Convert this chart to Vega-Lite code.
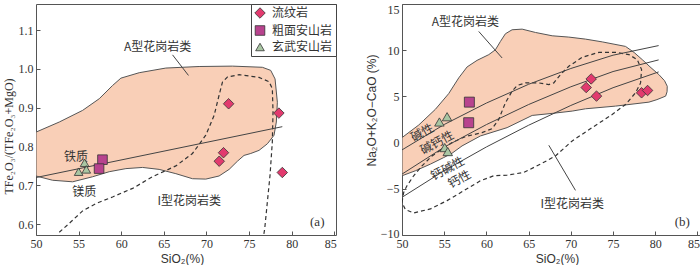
{
 "$schema": "https://vega.github.io/schema/vega-lite/v6.json",
 "padding": {"left": 1, "top": 2, "right": 0, "bottom": 0},
 "spacing": 27,
 "config": {
  "view": {"stroke": "#555", "strokeWidth": 1},
  "axis": {"domain": false, "grid": false, "tickSize": -4, "tickColor": "#555", "labelPadding": 7, "labelFont": "Liberation Serif, Times New Roman, serif", "labelFontSize": 12, "labelColor": "#333", "titleFont": "Liberation Sans", "titleFontSize": 12, "titleFontWeight": "normal", "titleColor": "#333"},
  "text": {"font": "Noto Sans CJK SC", "fontSize": 12, "fill": "#333"}
 },
 "resolve": {"scale": {"color": "independent", "shape": "independent", "size": "independent"}},
 "datasets": {
  "fieldA_a": [
   {"i":0,"x":50,"y":0.837},{"i":1,"x":52.73,"y":0.863},{"i":2,"x":55.47,"y":0.893},{"i":3,"x":57.42,"y":0.923},{"i":4,"x":58.98,"y":0.957},{"i":5,"x":59.96,"y":0.976},{"i":6,"x":62.11,"y":0.99},{"i":7,"x":65.23,"y":1.002},{"i":8,"x":69.14,"y":1.006},{"i":9,"x":73.05,"y":1.007},{"i":10,"x":76.56,"y":1.004},{"i":11,"x":77.54,"y":0.996},{"i":12,"x":78.05,"y":0.974},{"i":13,"x":78.32,"y":0.914},{"i":14,"x":78.2,"y":0.863},{"i":15,"x":77.93,"y":0.829},{"i":16,"x":77.15,"y":0.807},{"i":17,"x":76.17,"y":0.79},{"i":18,"x":75.2,"y":0.782},{"i":19,"x":74.41,"y":0.777},{"i":20,"x":73.63,"y":0.762},{"i":21,"x":72.66,"y":0.741},{"i":22,"x":71.48,"y":0.724},{"i":23,"x":69.92,"y":0.716},{"i":24,"x":68.36,"y":0.717},{"i":25,"x":66.41,"y":0.73},{"i":26,"x":64.45,"y":0.741},{"i":27,"x":62.5,"y":0.746},{"i":28,"x":60.55,"y":0.743},{"i":29,"x":58.59,"y":0.735},{"i":30,"x":56.64,"y":0.722},{"i":31,"x":54.3,"y":0.709},{"i":32,"x":51.95,"y":0.713},{"i":33,"x":50,"y":0.724},{"i":34,"x":50,"y":0.837}
  ],
  "fieldI_a": [
   {"i":0,"x":52.73,"y":0.579},{"i":1,"x":54.1,"y":0.606},{"i":2,"x":55.47,"y":0.634},{"i":3,"x":57.03,"y":0.653},{"i":4,"x":58.98,"y":0.67},{"i":5,"x":61.33,"y":0.692},{"i":6,"x":63.67,"y":0.722},{"i":7,"x":66.41,"y":0.75},{"i":8,"x":68.36,"y":0.782},{"i":9,"x":69.92,"y":0.829},{"i":10,"x":70.9,"y":0.88},{"i":11,"x":71.48,"y":0.932},{"i":12,"x":71.88,"y":0.966},{"i":13,"x":72.46,"y":0.979},{"i":14,"x":73.83,"y":0.985},{"i":15,"x":76.17,"y":0.978},{"i":16,"x":77.34,"y":0.967},{"i":17,"x":77.73,"y":0.949},{"i":18,"x":77.81,"y":0.889},{"i":19,"x":77.73,"y":0.812},{"i":20,"x":77.46,"y":0.726},{"i":21,"x":77.15,"y":0.658},{"i":22,"x":76.84,"y":0.589},{"i":23,"x":76.72,"y":0.572}
  ],
  "lines_a": [
   {"g":"L","x":50,"y":0.72},{"g":"L","x":78.9,"y":0.851},
   {"g":"lead","x":66.02,"y":1.036},{"g":"lead","x":67.89,"y":0.983}
  ],
  "labels_a": [
   {"t":"A型花岗岩类","x":64.26,"y":1.056},{"t":"铁质","x":54.69,"y":0.773},{"t":"镁质","x":55.66,"y":0.683},{"t":"I型花岗岩类","x":67.97,"y":0.66}
  ],
  "pts_a": [
   {"rock":"流纹岩","x":72.6,"y":0.91},{"rock":"流纹岩","x":78.5,"y":0.886},{"rock":"流纹岩","x":72.0,"y":0.784},{"rock":"流纹岩","x":71.5,"y":0.762},{"rock":"流纹岩","x":78.9,"y":0.733},
   {"rock":"粗面安山岩","x":57.8,"y":0.766},{"rock":"粗面安山岩","x":57.4,"y":0.743},
   {"rock":"玄武安山岩","x":55.0,"y":0.735},{"rock":"玄武安山岩","x":55.7,"y":0.758},{"rock":"玄武安山岩","x":55.9,"y":0.741}
  ],
  "fieldA_b": [
   {"i":0,"x":50,"y":0.54},{"i":1,"x":51.98,"y":1.9},{"i":2,"x":53.95,"y":3.6},{"i":3,"x":55.53,"y":5.3},{"i":4,"x":56.72,"y":7.0},{"i":5,"x":57.71,"y":8.19},{"i":6,"x":58.89,"y":8.9},{"i":7,"x":60.28,"y":9.52},{"i":8,"x":61.07,"y":10.05},{"i":9,"x":61.66,"y":10.95},{"i":10,"x":62.25,"y":11.78},{"i":11,"x":63.04,"y":12.21},{"i":12,"x":64.23,"y":12.28},{"i":13,"x":65.81,"y":11.92},{"i":14,"x":67.79,"y":11.56},{"i":15,"x":69.76,"y":11.42},{"i":16,"x":71.74,"y":11.2},{"i":17,"x":73.72,"y":10.9},{"i":18,"x":76.48,"y":10.41},{"i":19,"x":77.5,"y":9.75},{"i":20,"x":78.46,"y":8.98},{"i":21,"x":79.5,"y":8.1},{"i":22,"x":80.43,"y":7.36},{"i":23,"x":81.1,"y":6.7},{"i":24,"x":81.42,"y":6.1},{"i":25,"x":81.4,"y":5.5},{"i":26,"x":81.23,"y":5.03},{"i":27,"x":80.2,"y":4.65},{"i":28,"x":79.25,"y":4.38},{"i":29,"x":75.3,"y":3.95},{"i":30,"x":71.74,"y":3.66},{"i":31,"x":70.16,"y":3.41},{"i":32,"x":67.79,"y":3.16},{"i":33,"x":65.42,"y":2.94},{"i":34,"x":62.45,"y":1.62},{"i":35,"x":59.29,"y":0.72},{"i":36,"x":57.11,"y":-0.36},{"i":37,"x":55.93,"y":-1.15},{"i":38,"x":54.94,"y":-1.62},{"i":39,"x":53.36,"y":-2.33},{"i":40,"x":51.58,"y":-3.05},{"i":41,"x":50,"y":-3.59},{"i":42,"x":50,"y":0.54}
  ],
  "fieldI_b": [
   {"i":0,"x":50,"y":-6.46},{"i":1,"x":50.2,"y":-5.39},{"i":2,"x":50.59,"y":-4.67},{"i":3,"x":51.38,"y":-3.59},{"i":4,"x":52.37,"y":-2.51},{"i":5,"x":53.56,"y":-1.44},{"i":6,"x":54.74,"y":-0.72},{"i":7,"x":55.93,"y":0.0},{"i":8,"x":57.51,"y":0.65},{"i":9,"x":59.49,"y":1.08},{"i":10,"x":60.67,"y":1.51},{"i":11,"x":61.46,"y":2.51},{"i":12,"x":62.25,"y":4.31},{"i":13,"x":63.04,"y":5.57},{"i":14,"x":63.64,"y":6.18},{"i":15,"x":64.62,"y":6.46},{"i":16,"x":66.21,"y":6.46},{"i":17,"x":67.39,"y":6.28},{"i":18,"x":67.98,"y":6.46},{"i":19,"x":68.77,"y":7.36},{"i":20,"x":69.76,"y":8.26},{"i":21,"x":71.34,"y":9.23},{"i":22,"x":73.32,"y":9.77},{"i":23,"x":75.3,"y":9.77},{"i":24,"x":76.88,"y":9.52},{"i":25,"x":77.87,"y":8.98},{"i":26,"x":78.38,"y":7.9},{"i":27,"x":78.26,"y":6.46},{"i":28,"x":77.67,"y":5.39},{"i":29,"x":76.48,"y":4.13},{"i":30,"x":74.9,"y":3.05},{"i":31,"x":72.53,"y":1.62},{"i":32,"x":70.16,"y":0.18},{"i":33,"x":68.18,"y":-1.44},{"i":34,"x":66.4,"y":-2.33},{"i":35,"x":64.43,"y":-3.23},{"i":36,"x":62.45,"y":-3.52},{"i":37,"x":60.87,"y":-3.59},{"i":38,"x":59.29,"y":-4.13},{"i":39,"x":57.31,"y":-5.21},{"i":40,"x":55.34,"y":-6.28},{"i":41,"x":53.36,"y":-7.18},{"i":42,"x":51.38,"y":-7.61},{"i":43,"x":50.4,"y":-7.25},{"i":44,"x":50,"y":-6.46}
  ],
  "lines_b": [
   {"g":"L1","x":50,"y":-0.79},{"g":"L1","x":55,"y":1.96},{"g":"L1","x":60,"y":4.28},{"g":"L1","x":65,"y":6.31},{"g":"L1","x":70,"y":8.02},{"g":"L1","x":75,"y":9.46},{"g":"L1","x":80.4,"y":10.5},
   {"g":"L2","x":50,"y":-3.41},{"g":"L2","x":55,"y":-0.49},{"g":"L2","x":60,"y":1.95},{"g":"L2","x":65,"y":4.12},{"g":"L2","x":70,"y":6.04},{"g":"L2","x":75,"y":7.69},{"g":"L2","x":80.4,"y":8.95},
   {"g":"L3","x":50,"y":-5.92},{"g":"L3","x":55,"y":-3.04},{"g":"L3","x":60,"y":-0.47},{"g":"L3","x":65,"y":1.88},{"g":"L3","x":70,"y":4.02},{"g":"L3","x":75,"y":5.94},{"g":"L3","x":80.4,"y":7.65},
   {"g":"leadA","x":59.09,"y":12.03},{"g":"leadA","x":61.86,"y":9.16},
   {"g":"leadI","x":67.39,"y":-0.29},{"g":"leadI","x":70.55,"y":-5.17}
  ],
  "labels_b": [
   {"t":"A型花岗岩类","x":57.5,"y":13.1},{"t":"I型花岗岩类","x":70.16,"y":-6.64}
  ],
  "labels_b_rot": [
   {"t":"碱性","x":52.4,"y":1.08},{"t":"碱钙性","x":54.15,"y":0.0},{"t":"钙碱性","x":55.4,"y":-2.8},{"t":"钙性","x":56.8,"y":-3.95}
  ],
  "pts_b": [
   {"rock":"流纹岩","x":72.41,"y":6.89},{"rock":"流纹岩","x":71.82,"y":5.96},{"rock":"流纹岩","x":73.04,"y":5.03},{"rock":"流纹岩","x":78.38,"y":5.39},{"rock":"流纹岩","x":79.09,"y":5.64},
   {"rock":"粗面安山岩","x":57.98,"y":4.38},{"rock":"粗面安山岩","x":57.9,"y":2.15},
   {"rock":"玄武安山岩","x":54.43,"y":2.23},{"rock":"玄武安山岩","x":55.34,"y":2.8},{"rock":"玄武安山岩","x":55.06,"y":-0.54},{"rock":"玄武安山岩","x":55.42,"y":-0.97}
  ]
 },
 "hconcat": [
  {
   "width": 300, "height": 231,
   "encoding": {
    "x": {"field": "x", "type": "quantitative", "scale": {"domain": [50, 85.2], "nice": false, "zero": false}, "axis": {"values": [50,55,60,65,70,75,80,85], "title": "SiO₂(%)", "titlePadding": 4, "titleX": 146, "labelAlign": {"condition": {"test": "datum.value == 85", "value": "right"}, "value": "center"}, "labelOffset": {"condition": {"test": "datum.value == 85", "value": 2}, "value": 0}}},
    "y": {"field": "y", "type": "quantitative", "scale": {"domain": [0.572, 1.167], "nice": false, "zero": false}, "axis": {"values": [0.6,0.7,0.8,0.9,1.0,1.1], "format": ".1f", "title": "TFe₂O₃/(TFe₂O₃+MgO)", "titleFont": "Liberation Serif, Times New Roman, serif", "titlePadding": 3, "titleY": 132}}
   },
   "layer": [
    {"data": {"name": "fieldA_a"}, "mark": {"type": "line", "fill": "#f9cfb7", "stroke": "#555", "strokeWidth": 1, "clip": true}, "encoding": {"order": {"field": "i", "type": "quantitative"}}},
    {"data": {"name": "fieldI_a"}, "mark": {"type": "line", "stroke": "#333", "strokeWidth": 1.2, "strokeDash": [4, 3], "clip": true}, "encoding": {"order": {"field": "i", "type": "quantitative"}}},
    {"data": {"name": "lines_a"}, "mark": {"type": "line", "stroke": "#444", "strokeWidth": 1, "clip": true}, "encoding": {"detail": {"field": "g", "type": "nominal"}}},
    {"data": {"name": "labels_a"}, "mark": {"type": "text"}, "encoding": {"text": {"field": "t", "type": "nominal"}}},
    {"data": {"values": [{"t": "(a)", "x": 83.0, "y": 0.606}]}, "mark": {"type": "text", "font": "Liberation Serif, Times New Roman, serif", "fontSize": 13}, "encoding": {"text": {"field": "t", "type": "nominal"}}},
    {"data": {"name": "pts_a"}, "mark": {"type": "point", "filled": true, "stroke": "#333", "strokeWidth": 0.8, "opacity": 1},
     "encoding": {
      "shape": {"field": "rock", "type": "nominal", "scale": {"domain": ["流纹岩","粗面安山岩","玄武安山岩"], "range": ["diamond","square","triangle-up"]}, "legend": {"title": null, "orient": "top-right", "offset": 0, "padding": 3, "strokeColor": "#444", "fillColor": "white", "labelFont": "Noto Sans CJK SC", "labelFontSize": 12, "labelColor": "#333", "symbolSize": 90, "rowPadding": 3.5, "labelOffset": 6, "symbolStrokeColor": "#333", "symbolStrokeWidth": 0.8}},
      "color": {"field": "rock", "type": "nominal", "scale": {"domain": ["流纹岩","粗面安山岩","玄武安山岩"], "range": ["#e23a6e","#b8438e","#a9c6a3"]}, "legend": {"title": null, "orient": "top-right", "offset": 0, "padding": 3, "strokeColor": "#444", "fillColor": "white", "labelFont": "Noto Sans CJK SC", "labelFontSize": 12, "labelColor": "#333", "symbolSize": 90, "rowPadding": 3.5, "labelOffset": 6, "symbolStrokeColor": "#333", "symbolStrokeWidth": 0.8}},
      "size": {"field": "rock", "type": "nominal", "scale": {"domain": ["流纹岩","粗面安山岩","玄武安山岩"], "range": [110, 75, 95]}, "legend": null}
     }}
   ]
  },
  {
   "width": 298, "height": 231,
   "encoding": {
    "x": {"field": "x", "type": "quantitative", "scale": {"domain": [50, 85.3], "nice": false, "zero": false}, "axis": {"values": [50,55,60,65,70,75,80,85], "title": "SiO₂(%)", "titlePadding": 4, "titleX": 155, "labelAlign": {"condition": {"test": "datum.value == 85", "value": "right"}, "value": "center"}, "labelOffset": {"condition": {"test": "datum.value == 85", "value": 2}, "value": 0}}},
    "y": {"field": "y", "type": "quantitative", "scale": {"domain": [-10, 15], "nice": false, "zero": false}, "axis": {"values": [-10,-5,0,5,10,15], "title": "Na₂O+K₂O−CaO (%)", "titlePadding": 2, "titleY": 106, "labelBaseline": {"condition": {"test": "datum.value == 15", "value": "top"}, "value": "middle"}, "labelOffset": {"condition": {"test": "datum.value == -10", "value": -2}, "value": 0}}}
   },
   "layer": [
    {"data": {"name": "fieldA_b"}, "mark": {"type": "line", "fill": "#f9cfb7", "stroke": "#555", "strokeWidth": 1, "clip": true}, "encoding": {"order": {"field": "i", "type": "quantitative"}}},
    {"data": {"name": "fieldI_b"}, "mark": {"type": "line", "stroke": "#333", "strokeWidth": 1.2, "strokeDash": [4, 3], "clip": true}, "encoding": {"order": {"field": "i", "type": "quantitative"}}},
    {"data": {"name": "lines_b"}, "mark": {"type": "line", "stroke": "#444", "strokeWidth": 1, "clip": true}, "encoding": {"detail": {"field": "g", "type": "nominal"}}},
    {"data": {"name": "labels_b"}, "mark": {"type": "text"}, "encoding": {"text": {"field": "t", "type": "nominal"}}},
    {"data": {"name": "labels_b_rot"}, "mark": {"type": "text", "angle": 332}, "encoding": {"text": {"field": "t", "type": "nominal"}}},
    {"data": {"values": [{"t": "(b)", "x": 83.2, "y": -8.6}]}, "mark": {"type": "text", "font": "Liberation Serif, Times New Roman, serif", "fontSize": 13}, "encoding": {"text": {"field": "t", "type": "nominal"}}},
    {"data": {"name": "pts_b"}, "mark": {"type": "point", "filled": true, "stroke": "#333", "strokeWidth": 0.8, "opacity": 1},
     "encoding": {
      "shape": {"field": "rock", "type": "nominal", "scale": {"domain": ["流纹岩","粗面安山岩","玄武安山岩"], "range": ["diamond","square","triangle-up"]}, "legend": null},
      "color": {"field": "rock", "type": "nominal", "scale": {"domain": ["流纹岩","粗面安山岩","玄武安山岩"], "range": ["#e23a6e","#b8438e","#a9c6a3"]}, "legend": null},
      "size": {"field": "rock", "type": "nominal", "scale": {"domain": ["流纹岩","粗面安山岩","玄武安山岩"], "range": [110, 90, 95]}, "legend": null}
     }}
   ]
  }
 ]
}
